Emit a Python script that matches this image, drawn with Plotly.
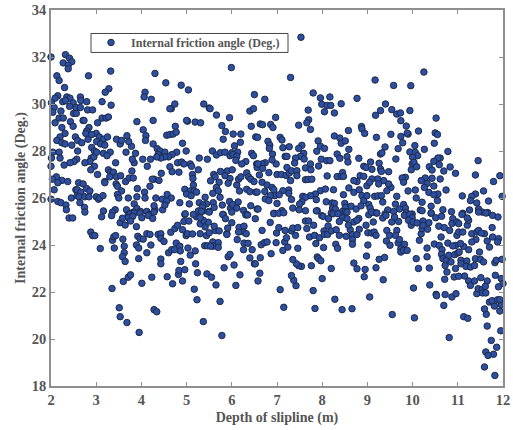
import plotly.graph_objects as go

series_name = "Internal friction angle (Deg.)"
x_title = "Depth of slipline (m)"
y_title = "Internal friction angle (Deg.)"
x_ticks = [2, 3, 4, 5, 6, 7, 8, 9, 10, 11, 12]
y_ticks = [18, 20, 22, 24, 26, 28, 30, 32, 34]

depth_2_to_3 = [(2.0,32.0),(2.32,32.1),(2.41,31.95),(2.27,31.75),(2.46,31.8),(2.38,31.65),(2.38,31.5),(2.13,31.2),(2.18,31.0),(2.3,30.7),(2.83,31.2),
(2.15,30.35),(2.09,30.25),(2.01,30.05),(2.26,30.1),(2.35,30.3),(2.42,30.25),(2.32,30.15),(2.49,30.05),(2.41,29.9),(2.07,29.85),(2.04,29.65),(2.22,29.7),(2.55,29.85),(2.65,30.3),(2.66,30.15),(2.79,30.1),(2.65,29.85),(2.81,29.75),(2.92,29.75),(2.5,29.6),(2.56,29.6),(2.18,29.4),(2.27,29.4),(2.09,29.2),(2.43,29.25),(2.49,29.05),(2.24,29.0),(2.31,28.75),(2.71,29.3),(2.73,29.3),(2.84,29.0),(2.79,28.85),(2.77,28.75),
(2.2,28.6),(2.13,28.45),(2.24,28.35),(2.31,28.3),(2.46,28.25),(2.54,28.6),(2.59,28.45),(2.68,28.35),(2.82,28.5),(3.0,28.75),(2.9,28.7),(2.9,28.15),(2.96,28.0),(2.04,27.95),(2.18,27.95),(2.01,27.7),(2.2,27.7),(2.59,28.0),(2.89,27.7),(2.95,27.75),(2.86,27.55),(2.75,27.5),(2.57,27.65),(2.51,27.55),(2.42,27.5),(2.29,27.4),(2.0,27.35),(2.96,27.35),(2.88,27.2),
(2.12,26.9),(2.03,26.8),(2.24,26.75),(2.15,26.65),(2.37,26.7),(2.61,26.65),(2.71,26.6),(2.07,26.35),(2.55,26.35),(2.58,26.35),(2.79,26.4),(2.86,26.3),(2.45,26.0),(2.58,26.1),(2.66,26.25),(2.62,26.05),(2.75,26.05),(2.84,26.05),(2.0,25.95),(2.64,25.8),(2.15,25.85),(2.22,25.8),(2.33,25.7),(2.34,25.5),(2.74,25.6),(2.75,25.4),(3.0,26.05),
(2.4,25.15),(2.48,25.15),(2.88,24.55),(2.92,24.4),(2.97,24.4)]

depth_3_to_4 = [(3.32,31.4),(3.28,30.65),(3.2,30.5),(3.33,29.95),(3.13,30.1),(3.03,29.2),(3.13,29.4),(3.22,29.4),(3.27,29.45),(3.07,28.6),(3.16,28.5),(3.25,28.6),(3.01,28.4),(3.1,28.3),(3.19,28.25),(3.01,27.95),(3.16,27.9),(3.31,27.95),(3.24,27.8),(3.03,27.0),(3.05,25.95),(3.08,26.0),(3.15,26.1),
(3.9,29.25),(3.84,27.5),(3.8,27.65),(3.87,27.9),(3.78,28.2),(3.72,28.4),(3.68,28.65),(3.53,28.3),(3.45,28.5),(3.56,28.45),(3.66,27.95),(3.43,27.5),(3.27,27.2),(3.32,27.1),(3.38,27.1),(3.3,26.9),(3.45,26.9),(3.54,26.95),(3.19,26.7),(3.19,26.65),(3.44,26.6),(3.65,26.7),(3.73,26.85),(3.82,26.85),(3.79,27.15),(3.47,26.5),(3.56,26.3),(3.47,26.15),(3.5,26.0),(3.71,26.0),(3.91,26.4),(3.9,26.05),
(3.67,25.5),(3.42,25.5),(3.36,25.4),(3.16,25.45),(3.84,25.75),(3.9,25.55),(3.98,25.43),(3.82,25.4),(3.71,25.3),(3.78,25.3),(3.75,25.33),(3.84,25.36),(3.97,25.36),(3.71,25.16),(3.81,25.22),
(3.12,25.2),(3.34,25.25),(3.09,23.85),(3.36,24.2),(3.39,24.35),(3.43,24.4),(3.4,23.87),(3.35,22.15),(3.51,21.33),(3.53,20.95),(3.68,20.7),(3.95,20.28),(3.6,22.45),(3.71,22.63),(3.76,22.73),(3.59,24.25),(3.62,23.95),(3.62,23.67),(3.58,23.5),(3.64,23.3),(3.94,23.42),(3.89,24.0),(3.94,23.87),(3.92,24.37),(3.97,24.27),
(3.53,24.95),(3.64,24.85),(3.58,25.14),(3.76,25.02),(3.89,24.78)]

depth_4_to_5 = [(4.3,31.3),(4.54,30.9),(4.88,30.8),(4.08,30.5),(4.06,30.3),(4.22,30.2),(4.04,28.9),(4.1,28.65),(4.09,28.45),(4.26,28.3),(4.26,29.3),(4.35,28.1),(4.41,28.0),(4.37,27.85),(4.52,27.95),(4.78,27.95),(4.68,27.85),(4.6,27.75),(4.52,27.75),(4.43,27.7),(4.34,27.75),(4.2,27.65),(4.03,27.65),(4.13,27.35),
(4.07,26.25),(4.08,26.0),(4.32,26.0),(4.46,25.95),(4.57,26.15),(4.66,26.0),(4.56,25.87),(4.19,26.5),(4.28,26.8),(4.39,26.75),(4.44,27.05),(4.24,26.8),(4.63,27.33),(4.68,27.12),(4.83,27.1),(4.8,27.5),(4.89,27.53),(4.94,27.45),(4.96,26.37),(4.85,25.8),(4.96,25.3),(4.91,28.33),(4.99,28.0),(4.56,28.67),(4.63,28.7),(4.7,28.72),(4.75,29.05),(4.77,28.8),(4.66,29.8),(4.74,30.0),(4.63,29.8),
(4.12,25.43),(4.3,25.5),(4.28,25.67),(4.47,25.5),(4.2,25.3),(4.52,25.7),(4.17,25.3),(4.28,25.4),(4.15,25.26),(4.01,25.16),(4.25,25.13),
(4.01,22.37),(4.23,22.63),(4.28,21.25),(4.34,21.16),(4.04,24.25),(4.12,24.48),(4.19,24.45),(4.37,24.45),(4.43,24.48),(4.43,24.28),(4.5,24.15),(4.43,23.4),(4.43,23.2),(4.12,23.67),(4.21,24.0),(4.57,22.65),(4.69,22.35),(4.91,22.47),(4.82,22.75),(4.83,22.92),(4.96,22.95),(4.87,23.3),(4.6,23.67),(4.67,23.8),(4.73,23.8),(4.77,24.08),(4.85,23.95),(4.86,23.75),(4.65,24.54),(4.74,24.7),(4.8,24.84),(4.91,24.65),(4.94,25.0),(4.99,24.4)]

depth_5_to_6 = [(5.04,30.6),(5.99,31.55),(5.02,29.27),(5.0,29.3),(5.19,29.23),(5.31,29.2),(5.38,30.0),(5.5,29.83),(5.52,29.8),(5.66,29.53),(5.78,29.08),(5.86,28.83),(5.81,28.5),(5.95,29.42),(5.57,28.0),(5.66,27.83),(5.75,27.93),(5.85,27.95),(5.96,27.8),(5.46,27.65),(5.28,27.7),(5.08,27.45),(5.11,27.35),(5.26,27.2),(5.13,27.0),(5.14,26.83),(5.15,26.55),(5.08,26.3),(5.17,26.3),(5.22,26.25),(5.0,26.17),(5.1,26.1),(5.41,26.03),(5.28,25.8),(5.59,25.8),(5.44,25.75),(5.36,25.7),(5.79,25.7),(5.06,25.75),(5.5,25.43),(5.37,25.45),(5.35,25.6),(5.26,25.45),(5.61,25.6),
(5.6,27.0),(5.63,26.9),(5.75,27.13),(5.9,27.15),(5.85,26.95),(5.96,26.83),(5.92,26.63),(5.53,26.73),(5.72,26.67),(5.66,26.45),(5.7,26.3),(5.58,26.2),(5.74,26.03),(5.95,25.85),(5.97,25.57),(5.81,25.3),
(5.03,23.87),(5.08,23.57),(5.19,23.75),(5.2,23.2),(5.24,22.82),(5.45,22.77),(5.55,22.63),(5.65,22.3),(5.17,22.12),(5.23,21.67),(5.74,21.6),(5.37,20.74),(5.78,20.15),(5.4,23.97),(5.46,23.97),(5.58,24.13),(5.59,23.95),(5.7,24.1),(5.7,23.9),(5.53,23.95),(5.83,23.03),(5.92,23.5),(5.96,23.6),(5.89,24.48),
(5.05,25.02),(5.02,24.48),(5.13,24.47),(5.3,24.48),(5.44,24.4),(5.5,24.52),(5.63,24.62),(5.72,24.6),(5.41,24.77),(5.61,24.8),(5.48,24.97),(5.3,24.9),(5.37,25.05),(5.22,25.2),(5.15,25.3),(4.97,25.33),(5.3,25.16),(5.8,25.3),(5.86,25.12),(5.91,24.72),(5.89,24.45),(5.5,25.4),(5.33,25.43)]

depth_6_to_7 = [(6.5,30.4),(6.03,28.72),(6.2,28.72),(6.19,28.37),(6.06,28.22),(6.0,27.93),(6.13,27.95),(6.03,27.85),(6.11,27.77),(6.09,27.6),(6.31,27.55),(6.22,27.45),(6.44,27.9),(6.48,27.8),(6.55,27.45),(6.56,27.3),(6.53,28.6),(6.43,29.05),(6.4,29.7),(6.48,29.8),(6.01,27.2),
(6.11,26.55),(6.15,26.8),(6.2,26.9),(6.33,27.07),(6.37,26.9),(6.42,26.8),(6.49,26.7),(6.17,26.3),(6.33,26.37),(6.4,26.27),(6.53,26.25),(6.02,25.72),(6.14,25.83),(6.11,25.57),(6.26,25.47),(6.0,25.4),(6.42,25.67),(6.56,25.53),(6.33,25.3),
(6.05,23.15),(6.09,22.28),(6.18,22.73),(6.26,23.8),(6.27,24.08),(6.36,24.07),(6.45,23.8),(6.4,23.45),(6.5,23.2),(6.12,24.23),(6.0,24.95),(6.16,24.75),(6.27,24.8),(6.26,24.55),(6.15,24.55),(6.32,24.48),(6.52,25.12),(6.31,25.28),(6.35,25.28),
(6.73,30.2),(6.97,29.43),(6.63,29.15),(6.68,29.12),(6.86,29.13),(6.91,29.0),(6.57,28.58),(6.8,28.41),(6.84,28.25),(6.83,28.11),(6.9,27.87),(6.98,27.45),(6.89,27.62),(6.74,27.5),(6.67,27.45),(6.58,27.45),(6.68,27.26),(6.82,27.08),(6.61,26.98),(6.67,26.67),(6.78,26.55),(6.89,26.45),(6.93,26.35),(6.73,26.28),(6.56,26.25),(6.95,26.1),(6.85,26.1),(6.74,25.96),(6.82,25.89),(6.58,25.53),(6.93,25.35),
(6.58,22.47),(6.62,22.8),(6.52,23.2),(6.63,23.46),(6.87,23.63),(6.98,24.1),(6.65,24.01),(6.72,24.1),(6.78,24.13),(6.99,24.51),(6.67,24.62),(6.85,24.96),(6.93,25.33)]

depth_7_to_8 = [(7.53,32.84),(7.3,31.13),(7.8,30.47),(7.96,30.26),(7.99,29.99),(7.69,29.74),(7.7,29.33),(7.66,29.2),(7.48,29.1),(7.74,28.92),(7.07,28.58),(7.11,28.47),(7.13,28.14),(7.27,28.18),(7.55,28.24),(7.48,28.11),(7.91,28.43),(7.96,28.2),(7.88,27.99),(7.98,27.65),(7.92,27.36),(7.59,27.9),(7.52,27.77),(7.6,27.66),(7.41,27.7),(7.39,27.49),(7.18,27.77),(7.22,27.77),(7.22,27.3),(7.74,27.45),(7.63,27.28),(7.75,27.2),(7.0,27.0),(7.1,27.0),(7.2,26.96),(7.27,27.06),(7.32,27.16),(7.44,27.16),(7.44,26.95),(7.3,26.74),(7.63,26.78),(7.69,26.79),(7.77,26.8),
(7.96,26.31),(7.85,26.17),(7.74,26.1),(7.57,26.07),(7.26,26.34),(7.13,26.31),(7.05,26.14),(7.26,26.2),(7.32,25.94),(7.0,25.77),(7.63,26.03),(7.55,25.84),(7.5,25.74),(7.35,25.57),(7.49,25.5),(7.63,25.46),(7.89,25.46),(7.87,25.93),(7.11,25.46),(7.04,25.35),(7.99,25.25),(7.15,25.37),(7.87,25.45),
(7.84,21.3),(7.15,21.35),(7.8,22.06),(7.07,22.1),(7.42,22.27),(7.37,22.5),(7.32,22.7),(7.76,23.12),(7.54,23.09),(7.48,23.12),(7.43,23.2),(7.35,23.38),(7.89,23.49),(7.92,23.42),(7.97,23.33),(7.13,23.77),(7.24,23.91),(7.46,23.86),(7.17,24.13),(7.21,24.31),(7.04,24.74),(7.18,24.62),(7.32,24.6),(7.35,24.72),(7.46,24.74),(7.41,24.41),(7.66,24.7),(7.63,25.02),(7.7,25.02),(7.81,24.84),(7.72,24.34),(7.83,24.41),(7.94,24.31),(7.86,24.06)]

depth_8_to_9 = [(8.17,30.3),(8.77,30.24),(8.42,30.01),(8.11,29.94),(8.19,29.94),(8.05,29.67),(8.27,29.62),(8.87,29.04),(8.88,28.94),(8.94,28.75),(8.58,28.87),(8.27,28.64),(8.39,28.55),(8.42,28.33),(8.51,28.43),(8.59,28.07),(8.05,28.11),(8.33,27.87),(8.39,27.69),(8.55,27.76),(8.57,27.53),(8.1,27.59),(8.17,27.59),(8.81,27.69),(8.92,27.35),(8.97,27.3),(8.11,26.94),(8.33,26.91),(8.42,26.92),(8.45,27.08),(8.47,26.92),(8.77,26.7),(8.7,26.74),(8.84,26.95),(8.92,26.92),(8.99,26.52),(8.59,26.43),(8.25,26.35),(8.07,26.38),
(8.09,25.84),(8.22,25.79),(8.27,25.77),(8.5,25.77),(8.47,26.14),(8.7,26.24),(8.82,26.35),(8.88,26.1),(8.92,25.89),(8.99,26.1),(8.64,25.65),(8.75,25.53),(8.86,25.67),(8.51,25.6),(8.23,25.57),(8.45,25.43),(8.29,25.53),(8.51,25.42),(8.2,25.36),
(8.66,21.29),(8.44,21.25),(8.28,21.69),(8.0,22.57),(8.2,23.0),(8.93,22.65),(8.95,22.96),(8.77,22.99),(8.7,23.23),(8.98,23.53),(8.03,23.89),(8.3,24.03),(8.34,23.86),(8.04,24.6),(8.13,24.81),(8.05,24.45),(8.12,24.45),(8.2,24.6),(8.31,24.65),(8.38,24.41),(8.53,24.37),(8.62,24.65),(8.67,24.44),(8.77,24.45),(8.67,24.23),(8.67,24.03),(8.82,24.67),(8.97,24.84),
(8.02,25.22),(8.24,25.33),(8.35,25.33),(8.55,25.4),(8.45,25.16),(8.55,25.12),(8.81,25.13),(8.7,24.98),(8.58,24.84),(8.77,25.05),(8.38,25.0),(8.14,25.12)]

depth_9_to_10 = [(9.17,31.02),(9.58,30.79),(9.96,30.78),(9.4,30.0),(9.29,29.72),(9.18,29.52),(9.54,29.76),(9.65,29.57),(9.73,29.62),(9.94,29.72),(9.74,29.29),(9.86,29.06),(9.9,28.72),(9.88,28.76),(9.74,28.62),(9.52,28.71),(9.2,28.58),(9.39,28.17),(9.68,28.1),(9.78,28.35),(9.63,27.66),(9.94,27.96),(9.99,27.45),(9.97,27.2),
(9.07,27.53),(9.1,27.22),(9.26,27.48),(9.29,27.87),(9.32,27.92),(9.29,27.23),(9.31,27.13),(9.47,27.12),(9.84,26.88),(9.77,26.85),(9.8,26.67),(9.52,26.45),(9.47,26.6),(9.43,26.31),(9.36,26.74),(9.23,26.81),(9.1,26.81),(9.05,26.67),(9.25,26.6),(9.9,26.3),
(9.16,26.07),(9.23,26.09),(9.31,26.1),(9.34,25.83),(9.65,26.07),(9.62,25.74),(9.8,25.72),(9.03,25.72),(9.84,25.57),(9.71,25.53),(9.45,25.49),(9.06,25.57),(9.58,25.43),(9.13,25.39),(9.2,25.36),(9.39,25.32),(9.86,25.38),(9.99,25.32),
(9.55,21.04),(9.05,21.79),(9.35,22.52),(9.19,23.03),(9.26,23.39),(9.38,23.47),(9.01,24.52),(9.09,24.51),(9.15,24.55),(9.19,24.41),(9.01,24.0),(9.43,24.62),(9.49,24.41),(9.42,24.17),(9.5,23.99),(9.65,24.62),(9.62,24.41),(9.68,24.09),(9.71,24.23),(9.82,24.03),(9.74,23.84),(9.74,23.7),(9.8,23.77),(9.88,23.77),
(9.03,25.29),(9.13,24.98),(9.34,25.15),(9.41,25.26),(9.09,25.4),(9.21,25.36),(9.54,24.98),(9.69,25.0),(9.6,25.19),(9.82,25.26),(9.94,25.3),(9.99,25.16),(9.91,25.05),(9.97,24.84)]

depth_10_to_11 = [(10.25,31.36),(10.52,29.4),(10.13,28.85),(10.5,28.77),(10.55,28.7),(10.05,28.23),(10.06,27.94),(10.11,27.8),(10.0,27.73),(10.03,27.52),(10.09,27.33),(10.26,28.07),(10.48,28.33),(10.78,27.98),(10.61,27.7),(10.56,27.7),(10.47,27.56),(10.59,27.42),(10.37,27.33),(10.43,27.19),(10.69,27.15),(10.83,27.32),(10.95,27.05),
(10.74,26.34),(10.61,26.81),(10.28,26.85),(10.19,26.74),(10.32,26.62),(10.43,26.84),(10.47,26.51),(10.26,26.45),(10.36,26.24),(10.56,26.17),(10.47,26.14),(10.06,26.34),(10.08,26.0),(10.21,25.82),(10.41,25.65),(10.55,25.89),(10.67,25.5),(10.86,25.42),(10.17,25.49),(10.21,25.46),(10.41,25.35),
(10.81,20.06),(10.04,20.9),(10.69,21.43),(10.02,22.17),(10.38,22.3),(10.52,21.9),(10.53,21.84),(10.72,21.89),(10.87,21.79),(10.96,21.93),(10.08,23.42),(10.13,23.0),(10.37,23.02),(10.32,23.5),(10.32,23.87),(10.15,24.2),(10.19,24.48),(10.21,24.7),(10.33,24.67),(10.48,24.04),(10.59,23.98),(10.63,24.34),(10.58,24.8),(10.7,24.74),(10.82,24.62),(10.98,24.41),(10.95,23.98),(10.78,24.08),(10.89,23.96),(10.65,23.8),(10.64,23.6),(10.67,23.42),(10.74,23.35),(10.8,23.56),(10.93,23.59),(11.0,23.66),(10.72,23.13),(10.85,23.28),(10.76,22.85),(10.95,23.0),(10.92,22.64),(10.71,22.54),
(10.01,24.98),(10.1,24.94),(10.23,25.02),(10.36,24.95),(10.23,24.84),(10.41,25.36),(10.51,25.16),(10.64,25.22),(10.89,25.12),(10.87,24.91),(10.98,24.98)]

depth_11_to_12 = [(11.45,27.59),(11.39,26.98),(11.93,26.95),(11.79,26.7),(11.57,26.3),(11.98,26.07),(11.39,26.17),(11.31,26.07),(11.1,26.09),(11.68,25.87),(11.28,25.89),(11.42,25.79),(11.46,25.53),(11.26,25.49),(11.11,25.35),(11.54,25.4),(11.66,25.38),
(11.82,18.45),(11.59,18.81),(11.79,19.35),(11.62,19.45),(11.67,19.3),(11.86,19.65),(11.74,19.94),(11.95,20.35),(11.65,20.55),(11.13,20.95),(11.22,20.88),(11.63,21.05),(11.59,21.28),(11.93,21.19),(11.96,21.47),(11.81,21.4),(11.7,21.57),(11.76,21.63),(11.88,21.67),(11.93,21.67),
(11.02,24.55),(11.11,24.55),(11.02,24.91),(11.21,24.84),(11.31,24.48),(11.42,24.55),(11.59,24.48),(11.76,24.74),(11.4,24.23),(11.31,24.13),(11.24,23.8),(11.13,23.94),(11.06,24.06),(11.03,23.7),(11.07,23.35),(11.2,23.32),(11.07,23.2),(11.18,23.09),(11.28,23.06),(11.37,23.13),(11.39,23.42),(11.48,23.7),(11.5,23.39),(11.57,23.28),(11.7,23.91),(11.65,24.17),(11.77,24.34),(11.9,24.27),(11.88,24.13),(11.82,23.25),(11.85,23.35),(11.98,23.39),
(11.15,22.68),(11.02,22.67),(11.24,22.47),(11.28,22.28),(11.37,22.47),(11.51,22.61),(11.65,22.47),(11.83,22.71),(11.96,22.57),(12.0,22.36),(11.9,22.22),(11.42,21.93),(11.45,22.14),(11.54,22.11),(11.61,22.24),(11.55,21.96),(11.62,21.96),
(11.09,25.3),(11.24,25.05),(11.21,25.15),(11.46,25.4),(11.62,25.36),(11.77,25.26),(11.89,25.19),(11.46,24.62),(11.52,24.51)]

readings = (depth_2_to_3 + depth_3_to_4 + depth_4_to_5 + depth_5_to_6 + depth_6_to_7
            + depth_7_to_8 + depth_8_to_9 + depth_9_to_10 + depth_10_to_11 + depth_11_to_12)
depth = [p[0] for p in readings]
friction = [p[1] for p in readings]

axis_grey = "#8f8f8f"
text_grey = "#555555"
serif = "Liberation Serif"

fig = go.Figure(go.Scatter(
    x=depth, y=friction, mode="markers", name=f"<b>{series_name}</b>", showlegend=True, cliponaxis=False,
    marker=dict(size=6.5, color="#2c4ea3", line=dict(color="#1f2a44", width=1)),
))

def axis(title, ticks, rng, standoff):
    return dict(
        title=dict(text=f"<b>{title}</b>", font=dict(family=serif, size=14, color=text_grey), standoff=standoff),
        range=rng, tickvals=ticks, ticktext=[f"<b>{t}</b>" for t in ticks],
        tickfont=dict(family=serif, size=14.5, color=text_grey),
        ticks="inside", ticklen=4, tickwidth=1, tickcolor=axis_grey,
        showline=True, linecolor=axis_grey, linewidth=1.5, mirror="allticks",
        showgrid=False, zeroline=False, automargin=False,
    )

fig.update_layout(
    width=513, height=430, paper_bgcolor="white", plot_bgcolor="white",
    margin=dict(l=51, r=10, t=9.5, b=44, pad=0),
    xaxis=axis(x_title, x_ticks, [2, 12], 5),
    yaxis=axis(y_title, y_ticks, [18, 34], 3),
    legend=dict(x=40/452, y=1-(42.5-15-9.5)/376.5, xanchor="left", yanchor="top",
                bgcolor="rgba(0,0,0,0)", borderwidth=0,
                font=dict(family=serif, size=12.1, color=text_grey)),
    shapes=[dict(type="rect", xref="paper", yref="paper", layer="above",
                 x0=40/452, x1=237/452, y0=1-(52-9.5)/376.5, y1=1-(33-9.5)/376.5,
                 line=dict(color="#444444", width=1), fillcolor="white")],
)
fig.write_html("out.html", post_script="document.body.style.margin='0';",
               config=dict(displayModeBar=False))
